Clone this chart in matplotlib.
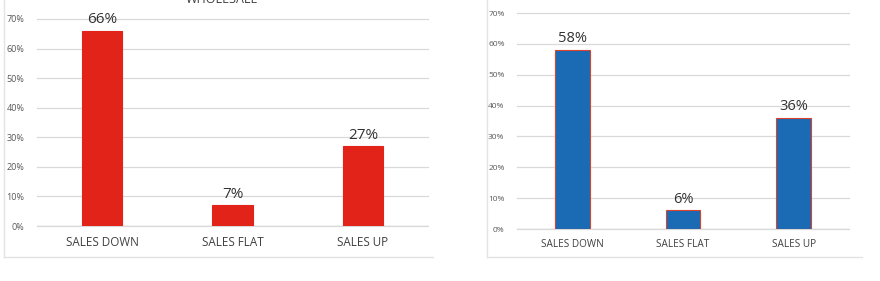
import numpy as np
import matplotlib
matplotlib.use('Agg')
import matplotlib.pyplot as plt
from matplotlib.lines import Line2D

### Dados
categorias = ['SALES DOWN', 'SALES FLAT', 'SALES UP']
valores_esq = [0.66, 0.07, 0.27]
valores_dir = [0.58, 0.06, 0.36]
rotulos_esq = ['66%', '7%', '27%']
rotulos_dir = ['58%', '6%', '36%']
yticks = [0, 0.1, 0.2, 0.3, 0.4, 0.5, 0.6, 0.7]
ytick_labels = ['0%', '10%', '20%', '30%', '40%', '50%', '60%', '70%']

W, H = 880, 281
plt.rcParams['font.family'] = ['Open Sans', 'DejaVu Sans']
fig = plt.figure(figsize=(W / 100, H / 100), dpi=100)
fig.patch.set_facecolor('white')


def px_axes(x0, x1, ytop, ybot):
    # coordenadas em pixels (origem no topo) -> figura
    return fig.add_axes([x0 / W, (H - ybot) / H, (x1 - x0) / W, (ybot - ytop) / H])


def desenha(ax, valores, rotulos, cor, borda, largura, fs_tick, fs_cat, fs_val):
    x = np.arange(len(categorias))
    ax.bar(x, valores, width=largura, color=cor, edgecolor=borda, linewidth=0.8, zorder=3)
    for xi, v, r in zip(x, valores, rotulos):
        ax.text(xi, v + 0.012, r, ha='center', va='bottom', fontsize=fs_val, color='#333333')
    ax.set_xlim(-0.5, 2.5)
    ax.set_ylim(0, 0.7)
    ax.set_yticks(yticks)
    ax.set_yticklabels(ytick_labels, fontsize=fs_tick, color='#595959')
    ax.set_xticks(x)
    ax.set_xticklabels(categorias, fontsize=fs_cat, color='#404040')
    ax.tick_params(length=0)
    ax.tick_params(axis='y', pad=9)
    ax.tick_params(axis='x', pad=7)
    ax.grid(axis='y', color='#d9d9d9', linewidth=0.9, zorder=0)
    for s in ax.spines.values():
        s.set_visible(False)
    ax.axhline(0, color='#d0d0d0', linewidth=1.0, zorder=2)
    for gl in ax.get_ygridlines():
        gl.set_clip_on(False)


ax1 = px_axes(37, 428, 19, 226)
desenha(ax1, valores_esq, rotulos_esq, '#e2231a', '#e2231a', 0.31, 6.5, 8.4, 11)

ax2 = px_axes(517, 849, 13, 229)
desenha(ax2, valores_dir, rotulos_dir, '#1b6ab4', '#d9442f', 0.315, 6, 7.2, 10.5)


def linha(x0, y0, x1, y1):
    fig.add_artist(Line2D([x0 / W, x1 / W], [(H - y0) / H, (H - y1) / H],
                          color='#e3e3e3', linewidth=1.0))


# molduras dos paineis
linha(4, 0, 4, 257)
linha(4, 257, 433, 257)
linha(487, 0, 487, 257)
linha(487, 257, 862, 257)

# titulo cortado no topo (como na imagem original)
fig.text(222 / W, (H - 3) / H, 'WHOLESALE', ha='center', va='baseline',
         fontsize=9, color='#404040')

fig.savefig('out.png', dpi=100, facecolor='white')
